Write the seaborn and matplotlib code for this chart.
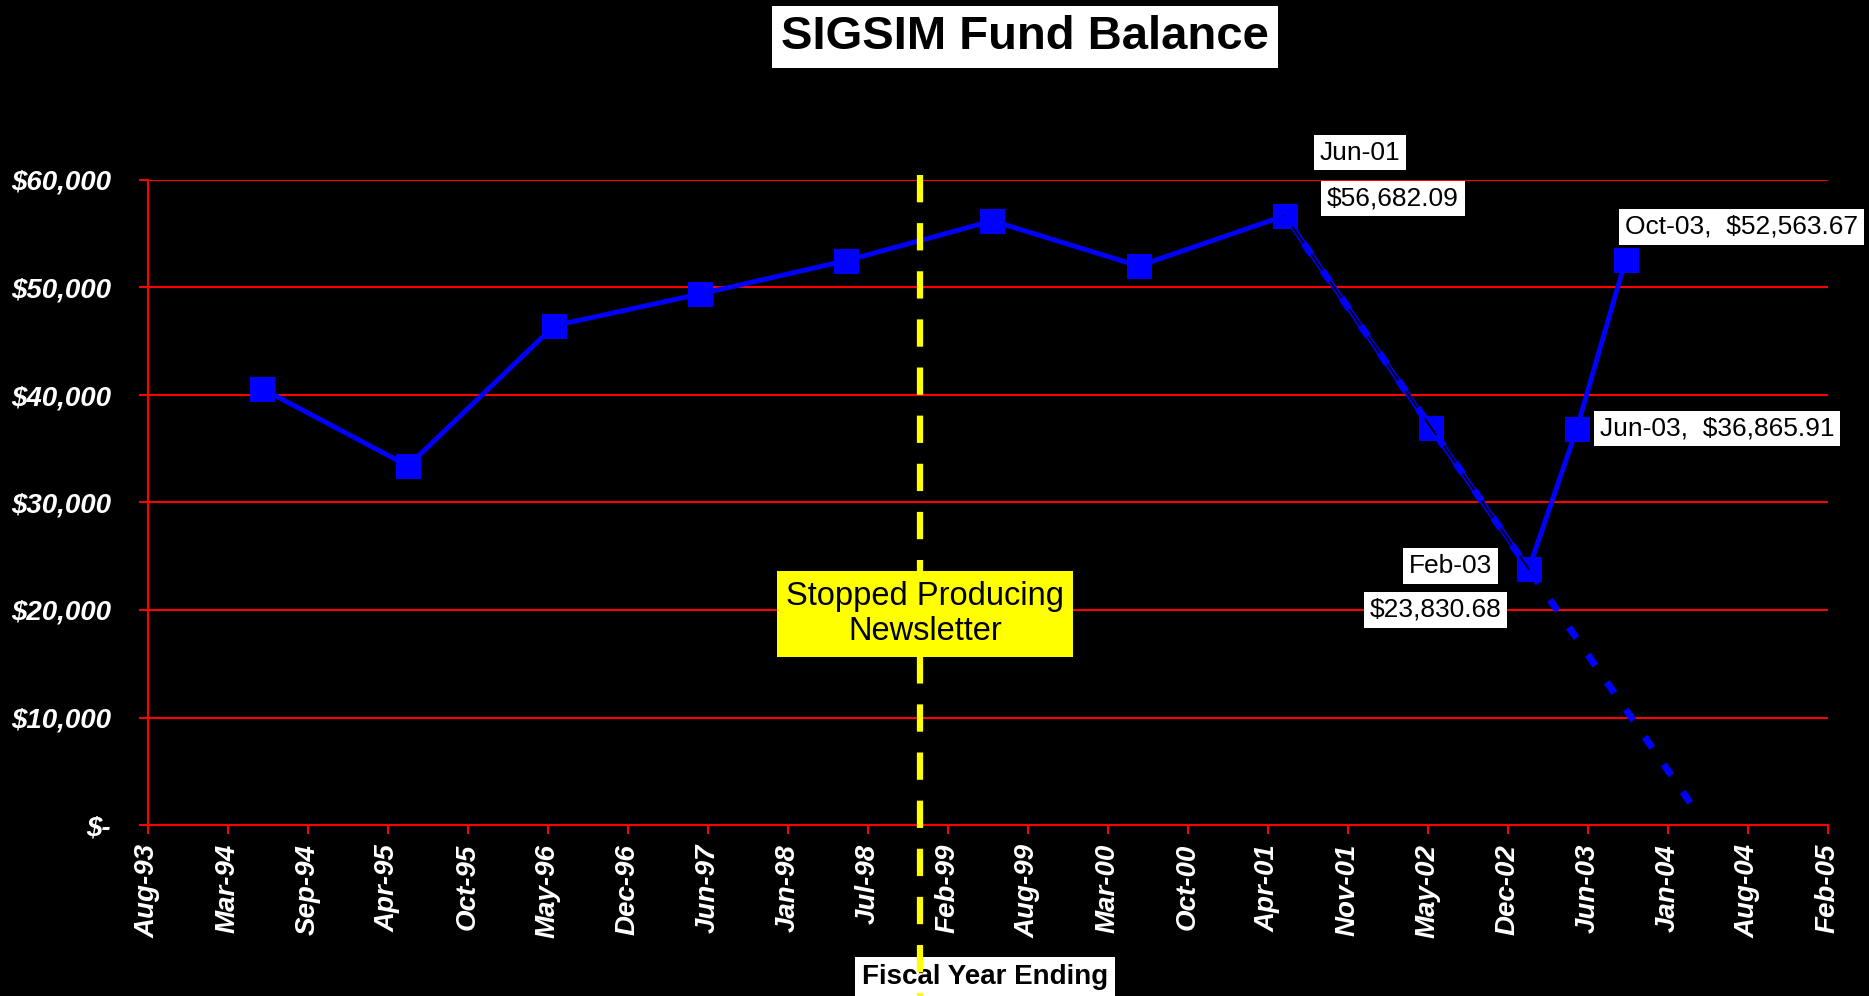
import numpy as np
import pandas as pd
import matplotlib
matplotlib.use("Agg")
import matplotlib.pyplot as plt
from matplotlib.ticker import FuncFormatter
import seaborn as sns

# fiscal year balances
fiscal_dates = ["1994-06-01", "1995-06-01", "1996-06-01", "1997-06-01",
                "1998-06-01", "1999-06-01", "2000-06-01", "2001-06-01",
                "2002-06-01", "2003-02-01", "2003-06-01", "2003-10-01"]
balance = [40600, 33400, 46450, 49400, 52500, 56200, 52000, 56682.09,
           36950, 23830.68, 36865.91, 52563.67]

# trend fitted on Jun-01 .. Feb-03, projected forward
trend_first, trend_last = 7, 9
forecast_days = 410

axis_start = "1993-08-20"
n_ticks = 22
tick_days = 200
stopped_date = "1998-12-01"

point_labels = ["Jun-01", "$56,682.09", "Feb-03", "$23,830.68",
                "Jun-03,  $36,865.91", "Oct-03,  $52,563.67"]

df = pd.DataFrame({"date": pd.to_datetime(fiscal_dates), "balance": balance})

sns.set_style("dark")
plt.rcParams["font.family"] = ["Liberation Sans", "DejaVu Sans"]

fig = plt.figure(figsize=(18.69, 9.96), dpi=100, facecolor="black")
ax = fig.add_axes([148 / 1869, 171 / 996, 1680 / 1869, 645 / 996])
ax.set_facecolor("black")

sns.lineplot(data=df, x="date", y="balance", ax=ax, color="#0000FF",
             lw=3.5, marker="s", markersize=18, markeredgewidth=0, zorder=3)

# linear trend (Excel style) on last drop
tr = df.iloc[trend_first:trend_last + 1]
t0 = tr["date"].iloc[0]
xd = (tr["date"] - t0).dt.days.values
k, b = np.polyfit(xd, tr["balance"].values, 1)
x_end = xd[-1] + forecast_days
tx = np.array([0, x_end])
tdates = [t0 + pd.Timedelta(days=int(d)) for d in tx]
ax.plot([t0, tr["date"].iloc[-1]], [b, k * xd[-1] + b], color="black",
        lw=1.3, zorder=4)
ax.plot(tdates, k * tx + b, color="#0000FF", lw=5, dashes=(1.9, 2.9),
        zorder=5, solid_capstyle="butt")

# axes
start = pd.Timestamp(axis_start)
ticks = [start + pd.Timedelta(days=tick_days * i) for i in range(n_ticks)]
ax.set_xlim(ticks[0], ticks[-1])
ax.set_ylim(0, 60000)
ax.set_xticks(ticks)
ax.set_xticklabels([t.strftime("%b-%y") for t in ticks], rotation=90,
                   fontsize=20, fontweight="bold", fontstyle="italic",
                   color="white")
ax.set_yticks(np.arange(0, 60001, 10000))
ax.yaxis.set_major_formatter(FuncFormatter(
    lambda v, p: "$-" if v == 0 else f"${v:,.0f}"))
for lab in ax.get_yticklabels():
    lab.set_fontsize(20)
    lab.set_fontweight("bold")
    lab.set_fontstyle("italic")
    lab.set_color("white")
ax.tick_params(axis="x", length=6.5, width=1.5, color="red", pad=7,
               labelcolor="white", bottom=True)
ax.tick_params(axis="y", length=6.5, width=1.5, color="red", pad=20,
               labelcolor="white", left=True)
ax.grid(axis="y", color="red", lw=1.5)
ax.grid(axis="x", visible=False)
ax.set_axisbelow(True)
for s in ["top", "right"]:
    ax.spines[s].set_visible(False)
for s in ["left", "bottom"]:
    ax.spines[s].set_color("red")
    ax.spines[s].set_linewidth(1.5)
ax.set_xlabel("")
ax.set_ylabel("")

# point labels
offsets = [(75, 63), (108, 17), (-78, 3), (-93, -41), (140, 0), (116, 33)]
idx = [7, 7, 9, 9, 10, 11]
for txt, i, off in zip(point_labels, idx, offsets):
    ax.annotate(txt, xy=(df["date"].iloc[i], df["balance"].iloc[i]),
                xytext=off, textcoords="offset pixels", ha="center",
                va="center", fontsize=19, color="black", zorder=8,
                bbox=dict(boxstyle="square,pad=0.22", fc="white", ec="none"))

# newsletter marker
stop = pd.Timestamp(stopped_date)
ax.plot([stop, stop], [1.008, -0.27], transform=ax.get_xaxis_transform(),
        clip_on=False, color="#FFFF00", lw=4.5, dashes=(4.37, 3.33),
        zorder=10)
ax.text(925 / 1869, 1 - 614 / 996, "Stopped Producing\nNewsletter",
        transform=fig.transFigure, ha="center", va="center", fontsize=23.5,
        color="black", linespacing=1.2, zorder=11,
        bbox=dict(boxstyle="square,pad=0.28", fc="#FFFF00", ec="none"))
ax.text(985 / 1869, 19 / 996, "Fiscal Year Ending", transform=fig.transFigure,
        ha="center", va="center", fontsize=20, fontweight="bold",
        color="black", zorder=6,
        bbox=dict(boxstyle="square,pad=0.25", fc="white", ec="none"))

fig.text(1025 / 1869, 1 - 37 / 996, "SIGSIM Fund Balance", ha="center",
         va="center", fontsize=34, fontweight="bold", color="black",
         bbox=dict(boxstyle="square,pad=0.2", fc="white", ec="none"))

fig.savefig("out.png", dpi=100, facecolor="black")
